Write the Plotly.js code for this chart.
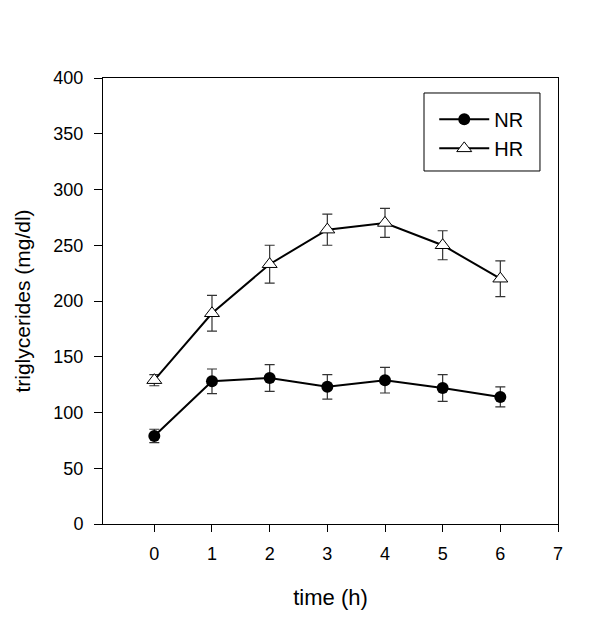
<!DOCTYPE html>
<html>
<head>
<meta charset="utf-8">
<script src="https://cdn.plot.ly/plotly-3.0.1.min.js"></script>
<style>html,body{margin:0;padding:0;background:#fff;}#chart{width:600px;height:617px;}</style>
</head>
<body>
<div id="chart"></div>
<script>
const time = [0, 1, 2, 3, 4, 5, 6];
const nrMean = [79, 128, 131, 123, 129, 122, 114];
const nrErr = [6, 11, 12, 11, 11.5, 12, 9];
const hrMean = [129, 189, 233, 264, 270, 250, 220];
const hrErr = [5, 16, 17, 14, 13, 13, 16];
const yTicks = [0, 50, 100, 150, 200, 250, 300, 350, 400];
const xTicks = [0, 1, 2, 3, 4, 5, 6, 7];

const errStyle = {type: 'data', visible: true, color: '#333', thickness: 1.2, width: 5};

const traces = [
  {
    x: time, y: nrMean, name: 'NR', type: 'scatter', mode: 'lines+markers',
    line: {color: '#000', width: 2},
    marker: {symbol: 'circle', size: 12, color: '#000'},
    error_y: Object.assign({array: nrErr}, errStyle)
  },
  {
    x: time, y: hrMean, name: 'HR', type: 'scatter', mode: 'lines+markers',
    line: {color: '#000', width: 2},
    marker: {symbol: 'triangle-up', size: 13, color: '#fff', line: {color: '#000', width: 1}},
    error_y: Object.assign({array: hrErr}, errStyle)
  }
];

const layout = {
  width: 600, height: 617,
  margin: {l: 103, r: 42, t: 78, b: 93},
  paper_bgcolor: '#fff', plot_bgcolor: '#fff',
  font: {family: 'Liberation Sans, Arial, sans-serif', color: '#000', size: 18},
  showlegend: true,
  legend: {
    x: 0.728, y: 0.951, xanchor: 'left', yanchor: 'top',
    borderwidth: 0, bgcolor: 'rgba(0,0,0,0)',
    font: {size: 20}, tracegroupgap: 0, itemwidth: 50
  },
  shapes: [{
    type: 'rect', xref: 'paper', yref: 'paper',
    x0: 0.7055, x1: 0.9604, y0: 0.7915, y1: 0.9664,
    line: {color: '#000', width: 1}, fillcolor: 'rgba(0,0,0,0)', layer: 'above'
  }],
  xaxis: {
    range: [-0.89, 7], tickvals: xTicks, ticktext: xTicks.map(String),
    ticks: 'outside', ticklen: 7, tickcolor: '#000', tickwidth: 1,
    ticklabelstandoff: 6,
    showline: true, linecolor: '#000', linewidth: 1, mirror: true,
    showgrid: false, zeroline: false,
    title: {text: 'time (h)', font: {size: 22}, standoff: 27},
    tickfont: {size: 18}
  },
  yaxis: {
    range: [0, 400], tickvals: yTicks, ticktext: yTicks.map(String),
    ticks: 'outside', ticklen: 8, tickcolor: '#000', tickwidth: 1,
    ticklabelstandoff: 7,
    showline: true, linecolor: '#000', linewidth: 1, mirror: true,
    showgrid: false, zeroline: false,
    title: {text: 'triglycerides (mg/dl)', font: {size: 21}, standoff: 17},
    tickfont: {size: 18}
  }
};

Plotly.newPlot('chart', traces, layout, {displayModeBar: false, staticPlot: true});
</script>
</body>
</html>
